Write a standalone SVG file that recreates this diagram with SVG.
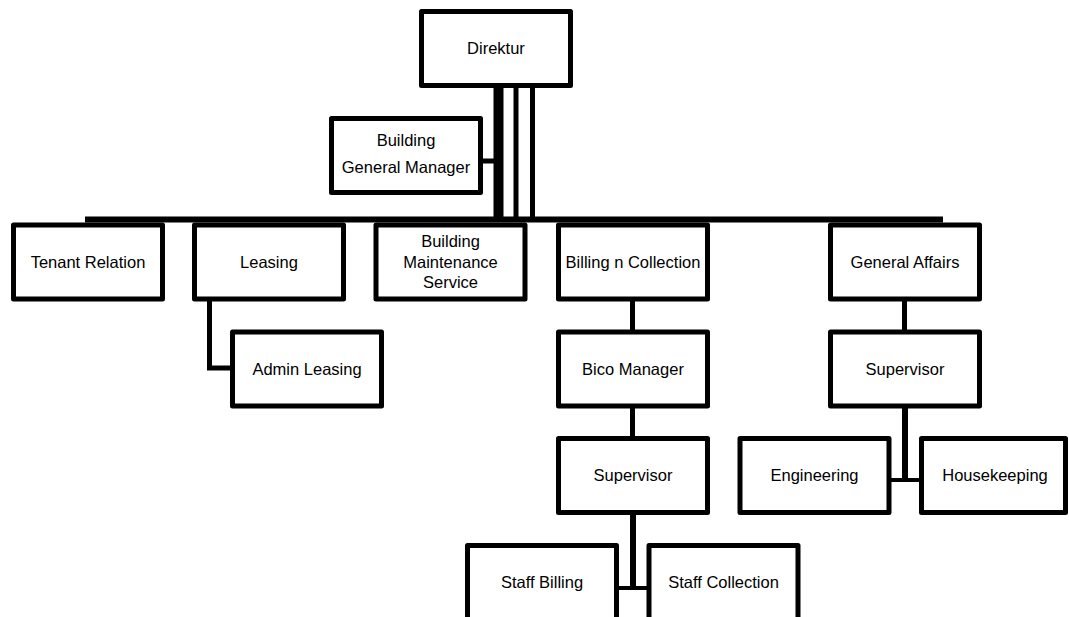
<svg xmlns="http://www.w3.org/2000/svg" width="1069" height="617" viewBox="0 0 1069 617">
  <style>
    .box { fill: #ffffff; stroke: #000000; stroke-width: 5; stroke-linejoin: round; }
    .lbl { font-family: "Liberation Sans", Arial, sans-serif; font-size: 16.5px; fill: #000000; text-anchor: middle; }
    .c { stroke: #000000; fill: none; }
  </style>
  <rect width="1069" height="617" fill="#ffffff"/>
  <g id="connectors">
    <line class="c" x1="498.5" y1="86" x2="498.5" y2="219" stroke-width="10"/>
    <line class="c" x1="516" y1="86" x2="516" y2="219" stroke-width="5"/>
    <line class="c" x1="532.5" y1="86" x2="532.5" y2="219" stroke-width="5"/>
    <line class="c" x1="480" y1="161" x2="495" y2="161" stroke-width="5"/>
    <path class="c" d="M85 219.5 H943" stroke-width="6"/>
    <path class="c" d="M209.5 299 V368 H232" stroke-width="5"/>
    <line class="c" x1="632.5" y1="299" x2="632.5" y2="332" stroke-width="5"/>
    <line class="c" x1="632.5" y1="406" x2="632.5" y2="439" stroke-width="5"/>
    <line class="c" x1="633" y1="512" x2="633" y2="589" stroke-width="6"/>
    <line class="c" x1="617" y1="588" x2="649" y2="588" stroke-width="4"/>
    <line class="c" x1="904.5" y1="299" x2="904.5" y2="332" stroke-width="5"/>
    <line class="c" x1="905" y1="406" x2="905" y2="481" stroke-width="6"/>
    <line class="c" x1="890" y1="480" x2="921" y2="480" stroke-width="4"/>
  </g>
  <g id="direktur">
    <rect class="box" x="421.5" y="11.5" width="149" height="74"/>
    <text class="lbl" x="496" y="54">Direktur</text>
  </g>
  <g id="building-general-manager">
    <rect class="box" x="331.5" y="118.5" width="149" height="74"/>
    <text class="lbl" x="406" y="146">Building</text>
    <text class="lbl" x="406" y="173">General Manager</text>
  </g>
  <g id="tenant-relation">
    <rect class="box" x="13.5" y="225" width="149" height="74"/>
    <text class="lbl" x="88" y="267.5">Tenant Relation</text>
  </g>
  <g id="leasing">
    <rect class="box" x="194.5" y="225" width="149" height="74"/>
    <text class="lbl" x="269" y="267.5">Leasing</text>
  </g>
  <g id="building-maintenance-service">
    <rect class="box" x="376" y="225" width="149" height="74"/>
    <text class="lbl" x="450.5" y="247">Building</text>
    <text class="lbl" x="450.5" y="267.5">Maintenance</text>
    <text class="lbl" x="450.5" y="288">Service</text>
  </g>
  <g id="billing-n-collection">
    <rect class="box" x="558.5" y="225" width="149" height="74"/>
    <text class="lbl" x="633" y="267.5">Billing n Collection</text>
  </g>
  <g id="general-affairs">
    <rect class="box" x="830.5" y="225" width="149" height="74"/>
    <text class="lbl" x="905" y="267.5">General Affairs</text>
  </g>
  <g id="admin-leasing">
    <rect class="box" x="232.5" y="332" width="149" height="74"/>
    <text class="lbl" x="307" y="374.5">Admin Leasing</text>
  </g>
  <g id="bico-manager">
    <rect class="box" x="558.5" y="332" width="149" height="74"/>
    <text class="lbl" x="633" y="374.5">Bico Manager</text>
  </g>
  <g id="supervisor-ga">
    <rect class="box" x="830.5" y="332" width="149" height="74"/>
    <text class="lbl" x="905" y="374.5">Supervisor</text>
  </g>
  <g id="supervisor-billing">
    <rect class="box" x="558.5" y="438.5" width="149" height="74"/>
    <text class="lbl" x="633" y="481">Supervisor</text>
  </g>
  <g id="engineering">
    <rect class="box" x="740" y="438.5" width="149" height="74"/>
    <text class="lbl" x="814.5" y="481">Engineering</text>
  </g>
  <g id="housekeeping">
    <rect class="box" x="921.5" y="438.5" width="144" height="74"/>
    <text class="lbl" x="995" y="481">Housekeeping</text>
  </g>
  <g id="staff-billing">
    <rect class="box" x="467.5" y="545.5" width="149" height="74"/>
    <text class="lbl" x="542" y="588">Staff Billing</text>
  </g>
  <g id="staff-collection">
    <rect class="box" x="649" y="545.5" width="149" height="74"/>
    <text class="lbl" x="723.5" y="588">Staff Collection</text>
  </g>
</svg>
